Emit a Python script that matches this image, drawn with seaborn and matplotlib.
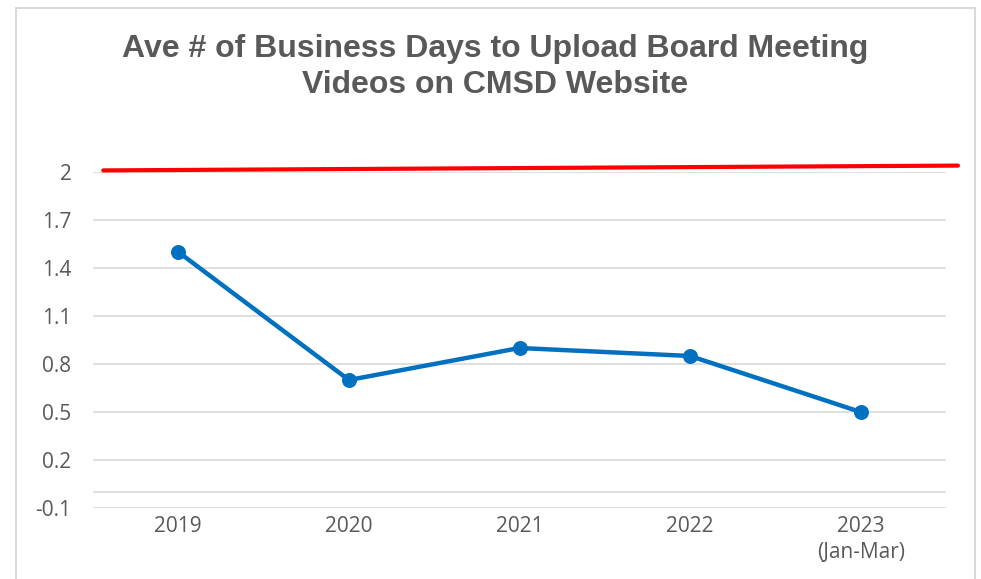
import matplotlib
matplotlib.use("Agg")
import matplotlib.pyplot as plt
import seaborn as sns
import pandas as pd
from matplotlib.patches import Rectangle

categories = ["2019", "2020", "2021", "2022", "2023\n(Jan-Mar)"]
avg_days = [1.5, 0.7, 0.9, 0.85, 0.5]
target_x = [-0.44, 4.57]
target_y = [2.01, 2.04]
yticks = [-0.1, 0.2, 0.5, 0.8, 1.1, 1.4, 1.7, 2.0]
ytick_labels = ["-0.1", "0.2", "0.5", "0.8", "1.1", "1.4", "1.7", "2"]
title_lines = ["Ave # of Business Days to Upload Board Meeting",
               "Videos on CMSD Website"]

sns.set_theme(style="white")
plt.rcParams['font.family'] = ['Liberation Sans', 'DejaVu Sans']

fig = plt.figure(figsize=(9.81, 5.79), dpi=100)
ax = fig.add_axes([93/981, 1-508/579, (946-93)/981, (508-172)/579])

df = pd.DataFrame({"x": range(len(categories)), "y": avg_days})
sns.lineplot(data=df, x="x", y="y", ax=ax, color="#0070C0", linewidth=3.2,
             marker="o", markersize=10, markeredgecolor="#0070C0", zorder=3)

tdf = pd.DataFrame({"x": target_x, "y": target_y})
sns.lineplot(data=tdf, x="x", y="y", ax=ax, color="#FF0000", linewidth=3.0,
             clip_on=False, zorder=4)

ax.set_xlim(-0.5, 4.5)
ax.set_ylim(-0.1, 2.0)
ax.set_yticks(yticks)
ax.set_yticklabels(ytick_labels)
ax.set_xticks(range(len(categories)))
ax.set_xticklabels(categories, linespacing=1.3)
ax.set_xlabel("")
ax.set_ylabel("")
for t in ax.get_xticklabels() + ax.get_yticklabels():
    t.set_fontfamily(['Open Sans', 'DejaVu Sans'])
    t.set_fontsize(15)
    t.set_color("#595959")
ax.tick_params(axis='y', length=0, pad=15.5)
ax.tick_params(axis='x', length=0, pad=6)
ax.grid(axis='y', color="#D9D9D9", linewidth=1.2)
ax.grid(axis='x', visible=False)
ax.axhline(0, color="#D9D9D9", linewidth=1.2, zorder=1)
for s in ax.spines.values():
    s.set_visible(False)

for i, (line, base) in enumerate(zip(title_lines, [57, 93])):
    fig.text(495/981, 1-base/579, line, ha="center", va="baseline", fontsize=23,
             fontweight="bold", color="#595959")

fig.patches.append(Rectangle((16/981, -0.05), (975-16)/981, 1-8/579+0.05,
                             transform=fig.transFigure, fill=False,
                             edgecolor="#D9D9D9", linewidth=1.5))

fig.savefig("out.png", dpi=100)
